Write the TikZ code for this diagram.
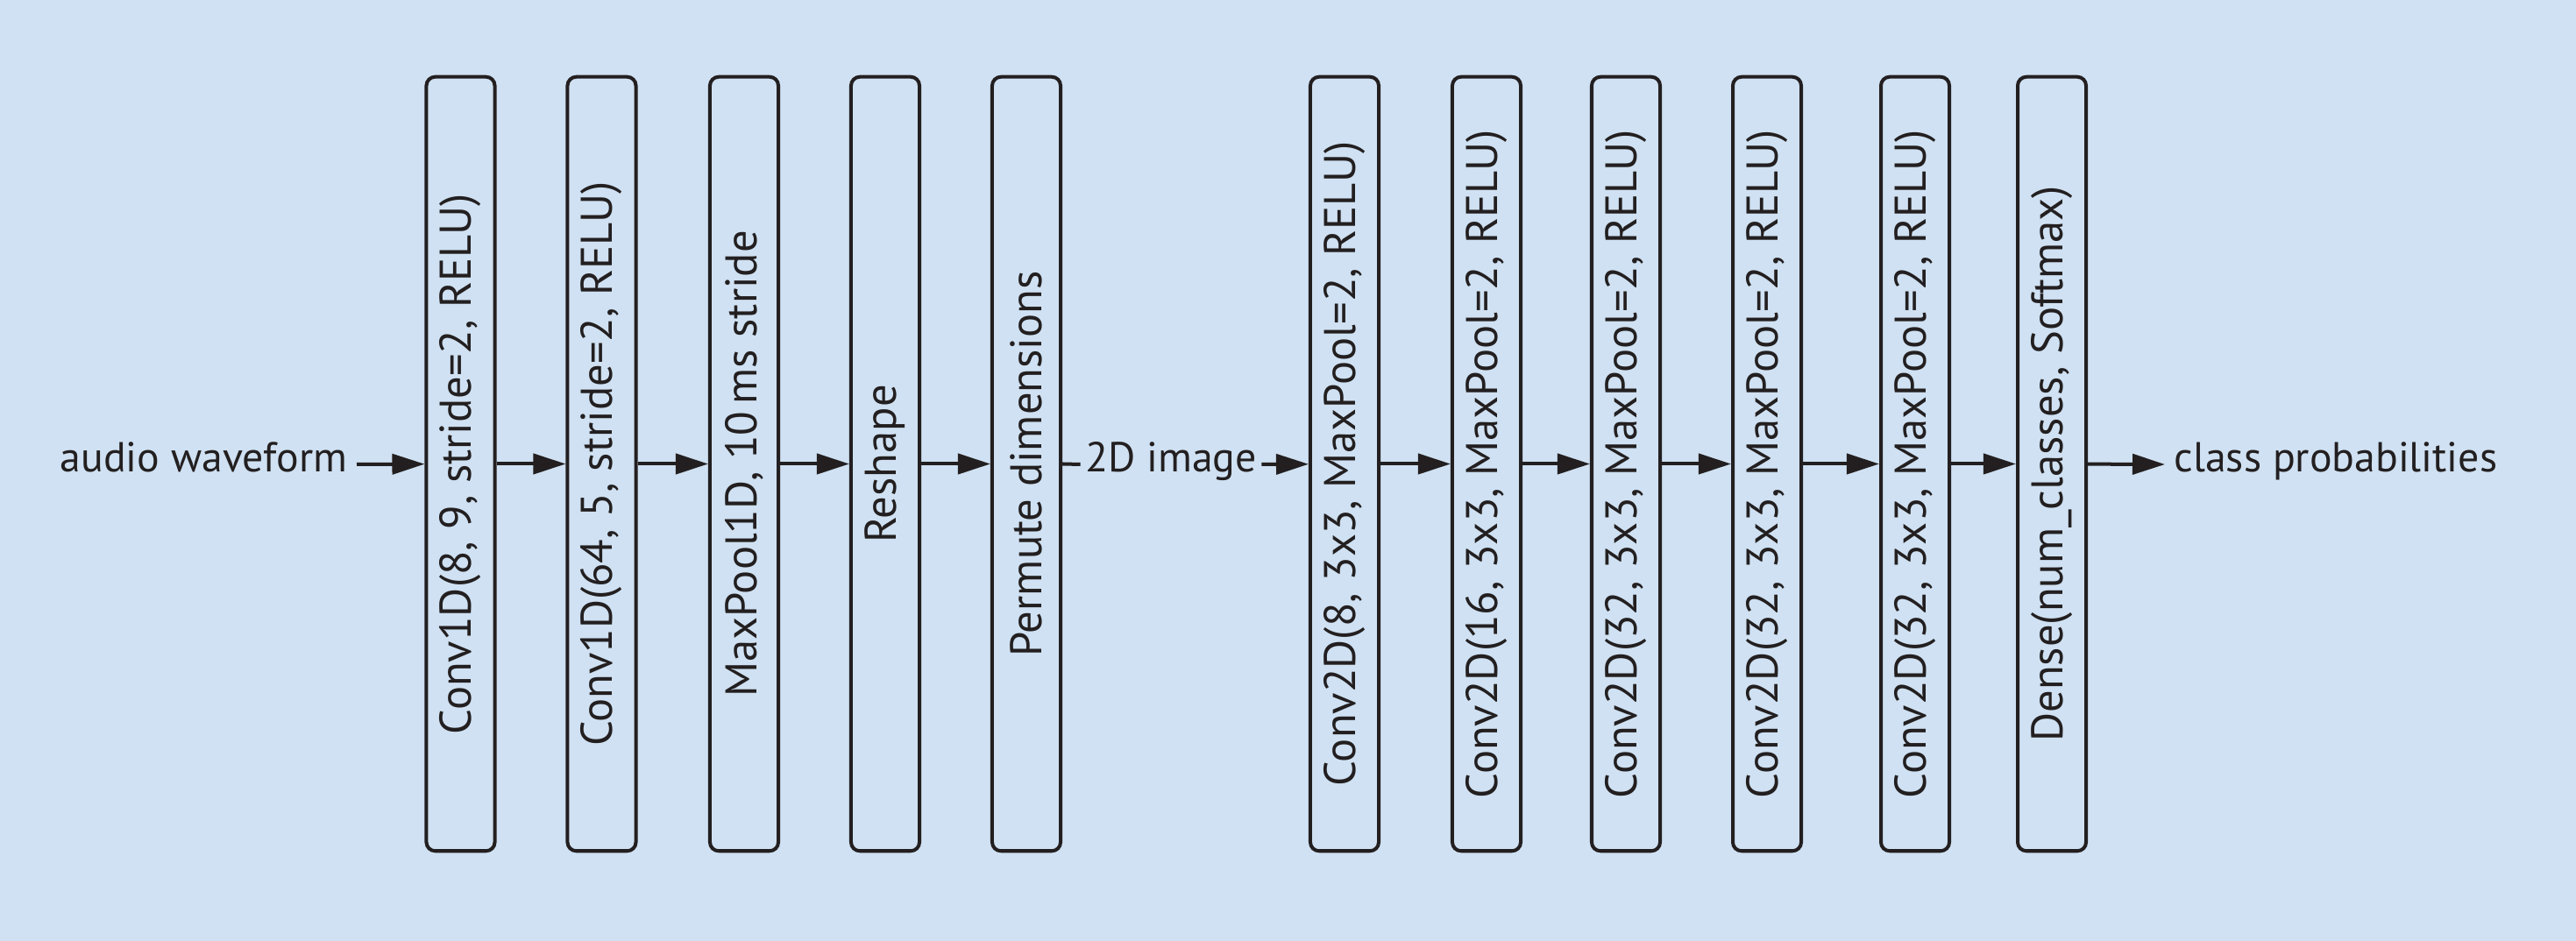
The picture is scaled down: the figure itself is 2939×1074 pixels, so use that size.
\documentclass[tikz,border=0pt]{standalone}
\usepackage{fontspec}
\setmainfont{PT Sans}
\usetikzlibrary{arrows.meta}
\definecolor{bg}{RGB}{207,225,242}
\definecolor{ink}{RGB}{35,31,32}
\tikzset{
  blk/.style={draw=ink, line width=0.04cm, rounded corners=0.1cm,
    minimum width=0.78cm, minimum height=8.83cm, inner sep=0pt,
    text=ink, font=\fontsize{14.4}{17}\selectfont},
  lbl/.style={inner ysep=0pt, inner xsep=0.1cm, text=ink,
    font=\fontsize{13.6}{16}\selectfont},
  arr/.style={draw=ink, line width=0.04cm, -{Triangle[length=0.37cm,width=0.23cm]}},
  ln/.style={draw=ink, line width=0.04cm}
}
\begin{document}
\begin{tikzpicture}[x=0.01cm,y=-0.01cm]
\fill[bg] (0,0) rectangle (2939,1074);
\useasboundingbox (0,0) rectangle (2939,1074);
\node[blk] (b1) at (525.5,529.5) {\rotatebox{90}{Conv1D(8, 9, stride=2, RELU)}};
\node[blk] (b2) at (686.5,529.5) {\rotatebox{90}{Conv1D(64, 5, stride=2, RELU)}};
\node[blk] (b3) at (849,529.5) {\rotatebox{90}{MaxPool1D, 10\,ms stride}};
\node[blk] (b4) at (1010,529.5) {\rotatebox{90}{Reshape}};
\node[blk] (b5) at (1171,529.5) {\rotatebox{90}{Permute dimensions}};
\node[blk] (b6) at (1534,529.5) {\rotatebox{90}{Conv2D(8, 3x3, MaxPool=2, RELU)}};
\node[blk] (b7) at (1696,529.5) {\rotatebox{90}{Conv2D(16, 3x3, MaxPool=2, RELU)}};
\node[blk] (b8) at (1855,529.5) {\rotatebox{90}{Conv2D(32, 3x3, MaxPool=2, RELU)}};
\node[blk] (b9) at (2016,529.5) {\rotatebox{90}{Conv2D(32, 3x3, MaxPool=2, RELU)}};
\node[blk] (b10) at (2185,529.5) {\rotatebox{90}{Conv2D(32, 3x3, MaxPool=2, RELU)}};
\node[blk] (b11) at (2341,529.5) {\rotatebox{90}{Dense(num\_classes, Softmax)}};
\node[lbl, anchor=mid east] (in) at (407,530) {audio waveform};
\node[lbl, anchor=mid, inner xsep=0.05cm] (img) at (1336,530) {2D image};
\node[lbl, anchor=mid west] (out) at (2470,530) {class probabilities};
\draw[arr] (in.mid east) -- (b1);
\draw[arr] (b1) -- (b2);
\draw[arr] (b2) -- (b3);
\draw[arr] (b3) -- (b4);
\draw[arr] (b4) -- (b5);
\draw[ln] (b5.east) -- (img.mid west);
\draw[arr] (img.mid east) -- (b6);
\draw[arr] (b6) -- (b7);
\draw[arr] (b7) -- (b8);
\draw[arr] (b8) -- (b9);
\draw[arr] (b9) -- (b10);
\draw[arr] (b10) -- (b11);
\draw[arr] (b11) -- (out.mid west);
\end{tikzpicture}
\end{document}
